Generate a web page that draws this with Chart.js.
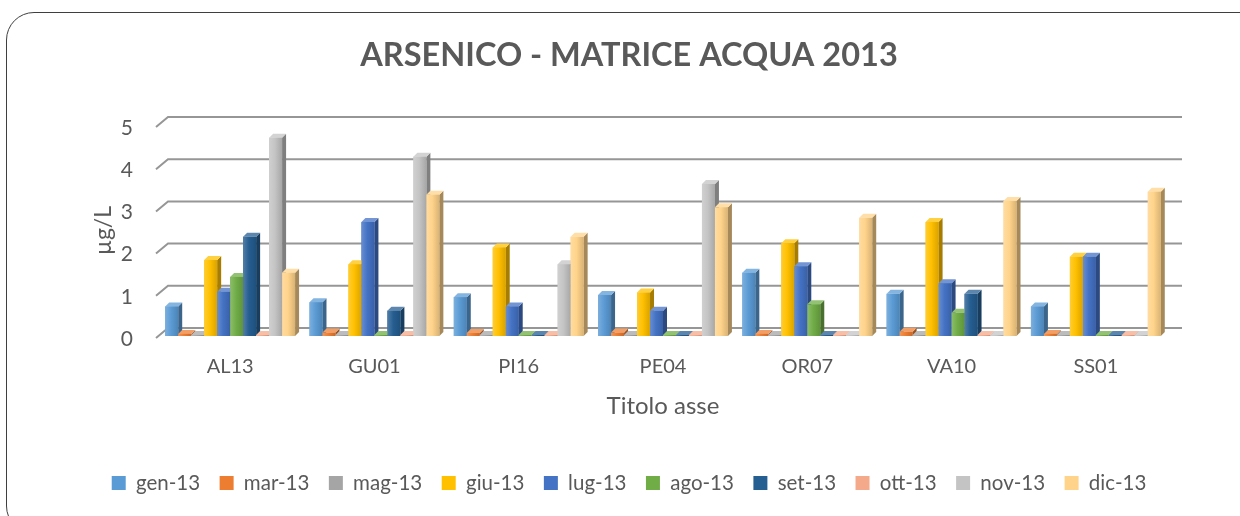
<!DOCTYPE html>
<html>
<head>
<meta charset="utf-8">
<script src="https://cdn.jsdelivr.net/npm/chart.js@4"></script>
<style>
  html, body { margin: 0; padding: 0; background: #fff; overflow: hidden; }
  #frame {
    position: absolute; left: 6px; top: 12px; width: 1262px; height: 522px;
    border: 1.5px solid #3f3f3f; border-radius: 28px; box-sizing: border-box;
  }
  #c { position: absolute; left: 0; top: 0; }
</style>
</head>
<body>
<div id="frame"></div>
<canvas id="c" width="1240" height="516"></canvas>
<script>
  // Sampling stations (categories)
  const SITES = ['AL13', 'GU01', 'PI16', 'PE04', 'OR07', 'VA10', 'SS01'];

  // Monthly arsenic values, µg/L, one array per month
  const gen13 = [0.70, 0.80, 0.92, 0.97, 1.50, 1.00, 0.70];
  const mar13 = [0.05, 0.08, 0.07, 0.08, 0.05, 0.10, 0.05];
  const mag13 = [0, 0, 0, 0, 0, 0, 0];
  const giu13 = [1.80, 1.70, 2.10, 1.03, 2.20, 2.70, 1.88];
  const lug13 = [1.05, 2.70, 0.70, 0.60, 1.65, 1.25, 1.88];
  const ago13 = [1.40, 0, 0, 0, 0.75, 0.55, 0];
  const set13 = [2.35, 0.60, 0, 0, 0, 1.00, 0];
  const ott13 = [0, 0, 0, 0, 0, 0, 0];
  const nov13 = [4.70, 4.25, 1.70, 3.60, 0, 0, 0];
  const dic13 = [1.50, 3.35, 2.35, 3.05, 2.80, 3.20, 3.42];

  const MONTHS = ['gen-13', 'mar-13', 'mag-13', 'giu-13', 'lug-13', 'ago-13', 'set-13', 'ott-13', 'nov-13', 'dic-13'];
  const SERIES = [gen13, mar13, mag13, giu13, lug13, ago13, set13, ott13, nov13, dic13];
  const COLORS = ['#5B9BD5', '#ED7D31', '#A5A5A5', '#FFC000', '#4472C4',
                  '#70AD47', '#255E91', '#F4A98A', '#C4C4C4', '#FFD38A'];

  const Y_TICKS = [0, 1, 2, 3, 4, 5];
  const TEXT = '#595959';
  const FONT = 'Lato, "Open Sans", sans-serif';
  const DEPTH = 4;

  function shade(hex, f) {
    const n = parseInt(hex.slice(1), 16);
    let r = n >> 16, g = (n >> 8) & 255, b = n & 255;
    const t = f < 0 ? 0 : 255, p = Math.abs(f);
    r = Math.round((t - r) * p + r);
    g = Math.round((t - g) * p + g);
    b = Math.round((t - b) * p + b);
    return `rgb(${r},${g},${b})`;
  }

  // back wall gridlines with the short slanted floor lead-in on the left
  // plus extruded columns (front, top, right side) drawn left to right
  const pseudo3d = {
    id: 'pseudo3d',
    beforeDatasetsDraw(chart) {
      const { ctx, chartArea } = chart;
      const ys = chart.scales.y;
      ctx.save();
      ctx.strokeStyle = '#969696';
      ctx.lineWidth = 2;
      ys.ticks.forEach(t => {
        const yy = ys.getPixelForValue(t.value);
        ctx.beginPath();
        ctx.moveTo(chartArea.left - 2, yy + 2);
        ctx.lineTo(chartArea.left + 10, yy - 8);
        ctx.lineTo(chartArea.right + 14, yy - 8);
        ctx.stroke();
      });
      ctx.restore();
    },
    afterDatasetsDraw(chart) {
      const ctx = chart.ctx;
      const nCat = chart.data.labels.length;
      const nSet = chart.data.datasets.length;
      ctx.save();
      for (let j = 0; j < nCat; j++) {
        for (let i = 0; i < nSet; i++) {
          const el = chart.getDatasetMeta(i).data[j];
          const { x, y, base, width } = el.getProps(['x', 'y', 'base', 'width'], true);
          const col = COLORS[i];
          const l = x - width / 2, r = x + width / 2;
          const top = Math.min(y, base - 1);
          // right side
          ctx.fillStyle = shade(col, -0.35);
          ctx.beginPath();
          ctx.moveTo(r, top); ctx.lineTo(r + DEPTH, top - DEPTH);
          ctx.lineTo(r + DEPTH, base - DEPTH); ctx.lineTo(r, base);
          ctx.closePath(); ctx.fill();
          // top face
          ctx.fillStyle = shade(col, 0.25);
          ctx.beginPath();
          ctx.moveTo(l, top); ctx.lineTo(r, top);
          ctx.lineTo(r + DEPTH, top - DEPTH); ctx.lineTo(l + DEPTH, top - DEPTH);
          ctx.closePath(); ctx.fill();
          // front face
          const g = ctx.createLinearGradient(l, 0, r, 0);
          g.addColorStop(0, shade(col, 0.2));
          g.addColorStop(0.45, col);
          g.addColorStop(1, shade(col, -0.15));
          ctx.fillStyle = g;
          ctx.fillRect(l, top, width, base - top);
        }
      }
      ctx.restore();
    }
  };

  new Chart(document.getElementById('c'), {
    type: 'bar',
    data: {
      labels: SITES,
      datasets: SERIES.map((vals, i) => ({
        label: MONTHS[i],
        data: vals,
        backgroundColor: COLORS[i],
        borderWidth: 0,
        barPercentage: 1.0,
        categoryPercentage: 0.9,
      })),
    },
    options: {
      responsive: false,
      animation: false,
      layout: { padding: { left: 90, right: 72, top: 0, bottom: 12.75 } },
      plugins: {
        title: {
          display: true,
          text: 'ARSENICO - MATRICE ACQUA 2013',
          color: TEXT,
          font: { family: FONT, size: 32.5, weight: 'bold' },
          padding: { top: 36, bottom: 50 },
        },
        legend: {
          position: 'bottom',
          labels: {
            color: TEXT,
            font: { family: FONT, size: 20.5 },
            boxWidth: 14,
            boxHeight: 14,
            padding: 19.5,
          },
        },
        tooltip: { enabled: false },
      },
      scales: {
        x: {
          grid: { display: false, drawTicks: false },
          border: { display: false },
          ticks: { color: TEXT, font: { family: FONT, size: 20 }, padding: 19 },
          title: {
            display: true,
            text: 'Titolo asse',
            color: TEXT,
            font: { family: FONT, size: 24 },
            padding: { top: 10, bottom: 32.85 },
          },
          afterFit(scale) { scale.height = 117.25; },
        },
        y: {
          min: 0,
          max: 5,
          afterBuildTicks(scale) { scale.ticks = Y_TICKS.map(v => ({ value: v })); },
          grid: { display: false, drawTicks: false },
          border: { display: false },
          ticks: { color: TEXT, font: { family: FONT, size: 21 }, padding: 25, labelOffset: 3 },
          title: {
            display: true,
            text: 'µg/L',
            color: TEXT,
            font: { family: FONT, size: 23 },
            padding: { top: 0, bottom: 0 },
          },
          afterFit(scale) { scale.width = 68; },
        },
      },
    },
    plugins: [pseudo3d],
  });
</script>
</body>
</html>
